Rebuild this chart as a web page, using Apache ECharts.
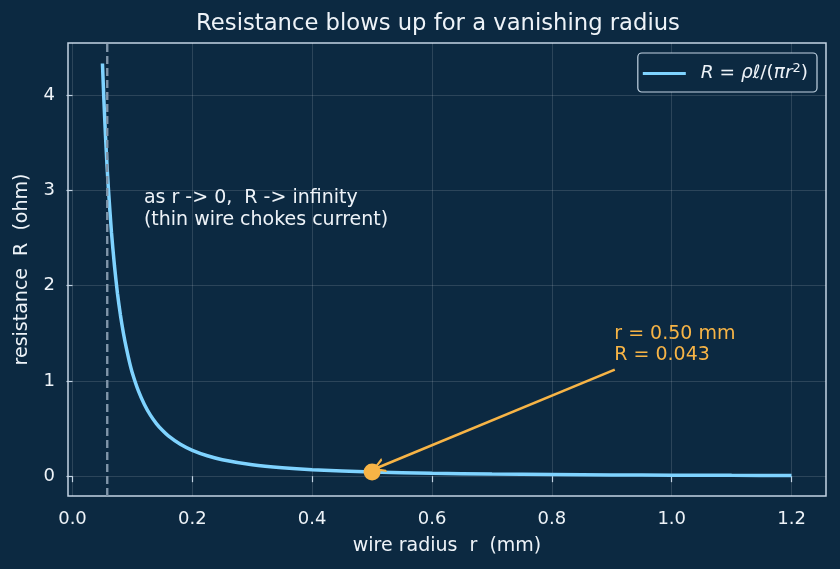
<!DOCTYPE html>
<html>
<head>
<meta charset="utf-8">
<script src="https://cdn.jsdelivr.net/npm/echarts@6/dist/echarts.min.js"></script>
<style>
  html, body { margin: 0; padding: 0; background: #0c2941; }
  #chart { width: 840px; height: 569px; }
</style>
</head>
<body>
<div id="chart"></div>
<script>
// wire radius (mm) and resistance (ohm)
const radius = [0.05, 0.0525, 0.055, 0.0575, 0.06, 0.065, 0.07, 0.075, 0.08, 0.085, 0.09, 0.095,
  0.10, 0.11, 0.12, 0.13, 0.14, 0.15, 0.16, 0.18, 0.20, 0.225, 0.25, 0.30, 0.35, 0.40,
  0.50, 0.60, 0.70, 0.80, 0.90, 1.00, 1.10, 1.20];
const resistance = [4.33, 3.93, 3.58, 3.27, 3.01, 2.56, 2.21, 1.92, 1.69, 1.50, 1.34, 1.20,
  1.08, 0.894, 0.752, 0.640, 0.552, 0.481, 0.423, 0.334, 0.271, 0.214, 0.173, 0.120, 0.088, 0.068,
  0.043, 0.030, 0.022, 0.017, 0.013, 0.011, 0.009, 0.0075];
const highlight = [0.5, 0.043];
const cutoffRadius = 0.058;
const xTicks = [0, 0.2, 0.4, 0.6, 0.8, 1.0, 1.2];
const yTicks = [0, 1, 2, 3, 4];
const yRange = [-0.208, 4.545];

const font = "'DejaVu Sans', sans-serif";
const bg = "#0c2941";
const fg = "#eef3f8";
const spine = "#c3d4e3";
const blue = "#7fd3ff";
const orange = "#f7b446";

const chart = echarts.init(document.getElementById("chart"));

const option = {
  backgroundColor: bg,
  animation: false,
  textStyle: { fontFamily: font },
  graphic: [
    {
      type: "text",
      x: 438,
      y: 24,
      style: {
        text: "Resistance blows up for a vanishing radius",
        fill: fg,
        font: "22.7px " + font,
        align: "center",
        verticalAlign: "middle",
      },
    },
  ],
  grid: {
    left: 68,
    right: 14,
    top: 43,
    bottom: 73,
    show: true,
    borderColor: spine,
    borderWidth: 1.5,
    outerBoundsMode: "none",
    containLabel: false,
  },
  legend: {
    right: 23,
    top: 53,
    selectedMode: false,
    backgroundColor: bg,
    borderColor: spine,
    borderWidth: 1.2,
    borderRadius: 4,
    padding: [9, 9, 9, 5],
    itemWidth: 43,
    itemHeight: 3,
    data: [{ name: "curve", icon: "rect" }],
    formatter: () => "{it|R} = {it|ρℓ}/({it|πr}{sup|2})",
    textStyle: {
      color: fg,
      fontSize: 18.5,
      padding: [0, 0, 0, 10],
      rich: {
        it: { fontStyle: "italic", fontSize: 18.5, color: fg },
        sup: { fontSize: 13, color: fg, padding: [0, 0, 10, 0] },
      },
    },
  },
  xAxis: {
    type: "value",
    min: -0.0075,
    max: 1.2575,
    name: "wire radius  r  (mm)",
    nameLocation: "middle",
    nameGap: 41,
    nameTextStyle: { color: fg, fontSize: 19 },
    axisLine: { show: false },
    axisTick: { show: true, length: 6, customValues: xTicks, lineStyle: { color: spine, width: 1.2 } },
    axisLabel: {
      customValues: xTicks,
      color: fg,
      fontSize: 18,
      margin: 14,
      formatter: (v) => v.toFixed(1),
    },
    splitLine: { show: true, lineStyle: { color: "rgba(255,255,255,0.17)", width: 0.8 } },
  },
  yAxis: {
    type: "value",
    min: yRange[0],
    max: yRange[1],
    name: "resistance  R  (ohm)",
    nameLocation: "middle",
    nameGap: 36,
    nameTextStyle: { color: fg, fontSize: 19 },
    axisLine: { show: false },
    axisTick: { show: true, length: 6, customValues: yTicks, lineStyle: { color: spine, width: 1.2 } },
    axisLabel: { customValues: yTicks, color: fg, fontSize: 18, margin: 13 },
    splitLine: { show: true, lineStyle: { color: "rgba(255,255,255,0.17)", width: 0.8 } },
  },
  series: [
    {
      // dashed cutoff guide, spans the full plot height
      name: "cutoff",
      type: "line",
      data: [[cutoffRadius, yRange[0]], [cutoffRadius, yRange[1]]],
      showSymbol: false,
      silent: true,
      lineStyle: { color: "#8195a9", width: 2.4, type: [8, 4] },
      z: 4,
    },
    {
      name: "curve",
      type: "line",
      data: radius.map((r, i) => [r, resistance[i]]),
      showSymbol: false,
      smooth: 0.2,
      color: blue,
      lineStyle: { color: blue, width: 3.5 },
      z: 3,
      markPoint: {
        silent: true,
        symbol: "circle",
        symbolSize: 1,
        itemStyle: { color: "transparent" },
        data: [
          {
            coord: [0.12, 2.80],
            label: {
              show: true,
              position: [0, 0],
              align: "left",
              verticalAlign: "middle",
              color: fg,
              fontSize: 19,
              lineHeight: 21.6,
              formatter: "as r -> 0,  R -> infinity\n(thin wire chokes current)",
            },
          },
        ],
      },
    },
    {
      name: "highlight",
      type: "scatter",
      data: [highlight],
      symbolSize: 17,
      itemStyle: { color: orange, opacity: 1 },
      z: 6,
      markLine: {
        silent: true,
        symbol: ["none", "path://M0,12 L6,0 L12,12 L10,12 L6,4 L2,12 Z"],
        symbolSize: [15, 13],
        label: { show: false },
        lineStyle: { color: orange, width: 2.6, type: "solid", opacity: 1 },
        data: [[{ coord: [0.905, 1.118] }, { coord: [0.51, 0.091] }]],
      },
      markPoint: {
        silent: true,
        symbol: "circle",
        symbolSize: 1,
        itemStyle: { color: "transparent" },
        data: [
          {
            coord: [0.905, 1.148],
            label: {
              show: true,
              position: [0, 0],
              align: "left",
              verticalAlign: "bottom",
              color: orange,
              fontSize: 19,
              lineHeight: 21.6,
              formatter: "r = 0.50 mm\nR = 0.043",
            },
          },
        ],
      },
    },
  ],
};

chart.setOption(option);
</script>
</body>
</html>
